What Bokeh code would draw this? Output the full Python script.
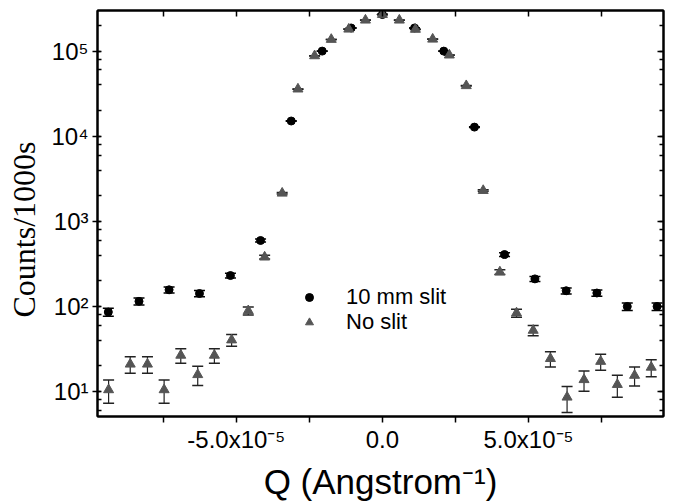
import numpy as np
from bokeh.plotting import figure
from bokeh.models import (Range1d, LinearAxis, LogAxis, FixedTicker, LogTicker,
                          CustomJSTickFormatter, Whisker, TeeHead, ColumnDataSource,
                          Legend, LegendItem)
from bokeh.embed import file_html
from bokeh.resources import INLINE

# 10 mm slit (circles)
q_slit = [-9.38e-5, -8.33e-5, -7.30e-5, -6.26e-5, -5.20e-5, -4.17e-5, -3.12e-5, -2.06e-5,
          -1.07e-5, 0.0, 1.10e-5, 2.10e-5, 3.15e-5, 4.18e-5, 5.22e-5, 6.29e-5, 7.34e-5,
          8.38e-5, 9.40e-5]
c_slit = [86, 115, 157, 142, 231, 596, 15100, 100000, 187000, 269000, 187000, 100000,
          12800, 408, 211, 153, 144, 100, 100]
e_slit = [9.3, 10.7, 12.5, 11.9, 15.2, 24.4, 123, 316, 432, 519, 432, 316, 113, 20.2,
          14.5, 12.4, 12.0, 10.0, 10.0]

# No slit (triangles)
q_noslit = [-9.37e-5, -8.63e-5, -8.04e-5, -7.47e-5, -6.90e-5, -6.32e-5, -5.75e-5, -5.16e-5,
            -4.59e-5, -4.03e-5, -3.43e-5, -2.89e-5, -2.32e-5, -1.75e-5, -1.15e-5, -0.58e-5,
            0.0, 0.58e-5, 1.13e-5, 1.72e-5, 2.29e-5, 2.87e-5, 3.45e-5, 4.02e-5, 4.59e-5,
            5.16e-5, 5.75e-5, 6.32e-5, 6.90e-5, 7.47e-5, 8.04e-5, 8.63e-5, 9.20e-5]
c_noslit = [10.5, 21, 21, 10.5, 26.7, 15.8, 26.7, 40.4, 89, 380, 2140, 35800, 88000, 137000,
            181000, 231000, 269000, 231000, 180000, 138000, 89800, 39200, 2300, 254, 83.8,
            52.4, 24.4, 8.6, 13.8, 22.6, 12.1, 15.5, 19.3]
e_noslit = [3.2, 4.6, 4.6, 3.2, 5.2, 4.0, 5.2, 6.4, 9.4, 19.5, 46, 189, 297, 370, 425, 481,
            519, 481, 424, 371, 300, 198, 48, 15.9, 9.2, 7.2, 4.9, 2.9, 3.7, 4.8, 3.5, 3.9, 4.4]

x_major = [-5e-5, 0.0, 5e-5]
x_minor = [-7.5e-5, -2.5e-5, 2.5e-5, 7.5e-5]

src_s = ColumnDataSource(dict(x=q_slit, y=c_slit,
                              lo=[c - e for c, e in zip(c_slit, e_slit)],
                              hi=[c + e for c, e in zip(c_slit, e_slit)]))
src_n = ColumnDataSource(dict(x=q_noslit, y=c_noslit,
                              lo=[c - e for c, e in zip(c_noslit, e_noslit)],
                              hi=[c + e for c, e in zip(c_noslit, e_noslit)]))

p = figure(width=666, height=503, output_backend="svg", toolbar_location=None,
           y_axis_type="log", x_range=Range1d(-9.75e-5, 9.62e-5),
           y_range=Range1d(5.1, 3.0e5),
           min_border_left=97, min_border_right=3, min_border_top=10, min_border_bottom=86)
p.grid.visible = False
p.outline_line_color = "black"
p.outline_line_width = 2
p.background_fill_color = "white"
p.border_fill_color = "white"

SUP = """
const sup = {"0":"\u2070","1":"\u00b9","2":"\u00b2","3":"\u00b3","4":"\u2074","5":"\u2075",
             "6":"\u2076","7":"\u2077","8":"\u2078","9":"\u2079","-":"\u207b"};
function s(n){ return String(n).split("").map(c => sup[c]).join(""); }
"""
yfmt = CustomJSTickFormatter(code=SUP + """
const e = Math.round(Math.log10(tick));
return "10" + s(e);
""")
xfmt = CustomJSTickFormatter(code=SUP + """
if (Math.abs(tick) < 1e-12) return "0.0";
const e = Math.floor(Math.log10(Math.abs(tick)) + 1e-9);
const m = tick / Math.pow(10, e);
return m.toFixed(1) + "x10" + s(e);
""")

FONT = "Liberation Sans"

xa = p.xaxis[0]
xa.ticker = FixedTicker(ticks=x_major, minor_ticks=x_minor)
xa.formatter = xfmt
xa.axis_label = "Q (Angstrom\u207b\u00b9)"
xa.axis_label_text_font = FONT
xa.axis_label_text_font_style = "normal"
xa.axis_label_text_font_size = "35px"
xa.axis_label_standoff = 6
xa.major_label_text_font = FONT
xa.major_label_text_font_size = "24px"
xa.major_label_standoff = 3
xa.major_tick_out = 6
xa.major_tick_in = 0
xa.minor_tick_out = 6
xa.minor_tick_in = 0

ya = p.yaxis[0]
ya.ticker = LogTicker(desired_num_ticks=6)
ya.formatter = yfmt
ya.axis_label = "Counts/1000s\u00a0\u00a0\u00a0\u00a0"
ya.axis_label_text_font = "Liberation Serif"
ya.axis_label_text_font_style = "normal"
ya.axis_label_text_font_size = "32px"
ya.axis_label_standoff = 6
ya.major_label_text_font = FONT
ya.major_label_text_font_size = "24px"
ya.major_label_standoff = 4
ya.major_tick_out = 5
ya.major_tick_in = 3
ya.minor_tick_out = 0
ya.minor_tick_in = 4

for ax in (xa, ya):
    ax.axis_line_width = 2
    ax.axis_line_color = "black"
    ax.major_tick_line_width = 1.5
    ax.minor_tick_line_width = 1.5
    ax.major_label_text_color = "black"
    ax.axis_label_text_color = "black"

top = LinearAxis(ticker=FixedTicker(ticks=x_major, minor_ticks=x_minor),
                 major_label_text_font_size="0px", major_label_standoff=0,
                 major_tick_in=6, major_tick_out=0, minor_tick_in=6, minor_tick_out=0,
                 axis_line_width=2, major_tick_line_width=1.5, minor_tick_line_width=1.5)
top.formatter = CustomJSTickFormatter(code="return '';")
p.add_layout(top, "above")
right = LogAxis(ticker=LogTicker(desired_num_ticks=6),
                major_label_text_font_size="0px", major_label_standoff=0,
                major_tick_in=6, major_tick_out=0, minor_tick_in=4, minor_tick_out=0,
                axis_line_width=2, major_tick_line_width=1.5, minor_tick_line_width=1.5)
right.formatter = CustomJSTickFormatter(code="return '';")
p.add_layout(right, "right")

# error bars
w_s = Whisker(base="x", upper="hi", lower="lo", source=src_s, dimension="height",
              line_color="black", line_width=1.2,
              upper_head=TeeHead(size=11, line_color="black", line_width=1.5),
              lower_head=TeeHead(size=11, line_color="black", line_width=1.5))
w_n = Whisker(base="x", upper="hi", lower="lo", source=src_n, dimension="height",
              line_color="#222222", line_width=1.2,
              upper_head=TeeHead(size=11, line_color="#222222", line_width=1.5),
              lower_head=TeeHead(size=11, line_color="#222222", line_width=1.5))
p.add_layout(w_s)
p.add_layout(w_n)

r_s = p.scatter("x", "y", source=src_s, marker="circle", size=8,
                fill_color="black", line_color="black")
r_n = p.scatter("x", "y", source=src_n, marker="triangle", size=10,
                fill_color="#555555", line_color="#555555")

leg_kw = dict(orientation="vertical", border_line_color=None, background_fill_alpha=0,
              label_text_font=FONT, label_text_font_size="22px", label_text_color="black",
              glyph_width=20, glyph_height=24, label_height=24, label_standoff=27,
              spacing=0, padding=0, margin=0)
leg1 = Legend(items=[LegendItem(label="10 mm slit", renderers=[r_s])],
              location=(202, 106), **leg_kw)
leg2 = Legend(items=[LegendItem(label="No slit", renderers=[r_n])],
              location=(202, 81), **leg_kw)
p.add_layout(leg1, "center")
p.add_layout(leg2, "center")

open("out.html", "w").write(file_html(p, INLINE))
